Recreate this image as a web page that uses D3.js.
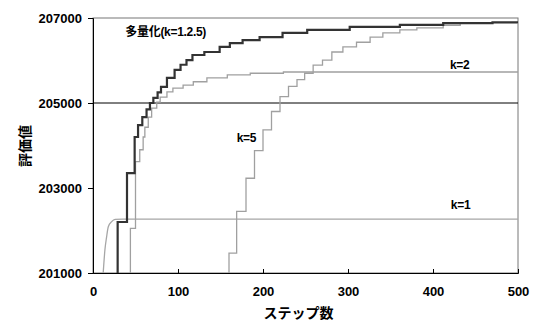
<!DOCTYPE html>
<html>
<head>
<meta charset="utf-8">
<script src="https://cdn.jsdelivr.net/npm/d3@7"></script>
<style>
  body { margin: 0; background: #fff; }
  svg text { font-family: "Liberation Sans", Arial, "Noto Sans CJK JP", sans-serif; }
</style>
</head>
<body>
<div id="chart"></div>
<script>
// Chart data
const multiSteps = [29, 29, 40, 49, 53, 58, 63, 67, 71, 76, 80, 87, 96, 103, 110, 117, 131, 149, 161, 176, 196, 223, 252, 302, 361, 412, 470, 500];
const multiValues = [201000, 202200, 203350, 204200, 204480, 204670, 204850, 205000, 205120, 205250, 205380, 205590, 205780, 205900, 206010, 206130, 206200, 206320, 206410, 206480, 206550, 206650, 206720, 206790, 206840, 206880, 206900, 206900];

const k1Steps = [12, 14, 16, 18, 22, 26, 35, 500];
const k1Values = [201000, 201540, 201850, 202090, 202210, 202260, 202270, 202270];

const k2Steps = [44, 44, 50, 55, 59, 61, 65, 69, 75, 79, 87, 94, 106, 118, 134, 158, 185, 224, 500];
const k2Values = [201000, 202050, 203620, 203900, 204200, 204430, 204670, 204880, 205020, 205140, 205260, 205350, 205420, 205500, 205590, 205660, 205700, 205730, 205730];

const k5Steps = [160, 160, 169, 180, 190, 200, 210, 220, 230, 240, 249, 259, 270, 281, 294, 310, 326, 341, 361, 381, 412, 432, 500];
const k5Values = [201000, 201470, 202450, 203230, 203880, 204370, 204800, 205150, 205390, 205550, 205700, 205890, 206010, 206200, 206320, 206430, 206550, 206650, 206720, 206770, 206830, 206880, 206880];

const xTicks = [0, 100, 200, 300, 400, 500];
const yTicks = [201000, 203000, 205000, 207000];
const refLine = 205000;

const width = 533, height = 320;
const margin = { top: 18, right: 15, bottom: 47, left: 93 };
const innerW = width - margin.left - margin.right;
const innerH = height - margin.top - margin.bottom;

const svg = d3.select('#chart')
    .append('svg')
    .attr('width', width)
    .attr('height', height);

const g = svg.append('g')
    .attr('transform', `translate(${margin.left},${margin.top})`);

const x = d3.scaleLinear().domain([0, 500]).range([0, innerW]);
const y = d3.scaleLinear().domain([201000, 207000]).range([innerH, 0]);

// clip so lines stay inside plot area
svg.append('defs').append('clipPath')
    .attr('id', 'plot-clip')
    .append('rect')
    .attr('width', innerW)
    .attr('height', innerH);

// plot frame
g.append('rect')
    .attr('width', innerW)
    .attr('height', innerH)
    .attr('fill', 'none')
    .attr('stroke', '#777')
    .attr('stroke-width', 1);

// reference line at 205000
g.append('line')
    .attr('x1', 0)
    .attr('x2', innerW)
    .attr('y1', y(refLine))
    .attr('y2', y(refLine))
    .attr('stroke', '#000')
    .attr('stroke-width', 1);

const toPoints = (steps, values) => steps.map((s, i) => ({ s: s, v: values[i] }));

const stepLine = d3.line()
    .x(d => x(d.s))
    .y(d => y(d.v))
    .curve(d3.curveStepAfter);

const smoothLine = d3.line()
    .x(d => x(d.s))
    .y(d => y(d.v))
    .curve(d3.curveMonotoneX);

const lines = g.append('g').attr('clip-path', 'url(#plot-clip)');

lines.append('path')
    .datum(toPoints(k1Steps, k1Values))
    .attr('d', smoothLine)
    .attr('fill', 'none')
    .attr('stroke', '#a6a6a6')
    .attr('stroke-width', 1.3);

lines.append('path')
    .datum(toPoints(k2Steps, k2Values))
    .attr('d', stepLine)
    .attr('fill', 'none')
    .attr('stroke', '#a0a0a0')
    .attr('stroke-width', 1.3);

lines.append('path')
    .datum(toPoints(k5Steps, k5Values))
    .attr('d', stepLine)
    .attr('fill', 'none')
    .attr('stroke', '#a0a0a0')
    .attr('stroke-width', 1.3);

lines.append('path')
    .datum(toPoints(multiSteps, multiValues))
    .attr('d', stepLine)
    .attr('fill', 'none')
    .attr('stroke', '#333')
    .attr('stroke-width', 2.2);

// axes
const xAxis = g.append('g')
    .attr('transform', `translate(0,${innerH})`)
    .call(d3.axisBottom(x).tickValues(xTicks).tickSize(-4).tickPadding(14).tickFormat(d3.format('d')));

const yAxis = g.append('g')
    .call(d3.axisLeft(y).tickValues(yTicks).tickSize(5).tickPadding(6).tickFormat(d3.format('d')));

[xAxis, yAxis].forEach(a => {
    a.select('.domain').attr('stroke', '#000');
    a.selectAll('line').attr('stroke', '#000');
    a.selectAll('text')
        .attr('font-size', '13px')
        .attr('font-weight', 'bold')
        .attr('fill', '#000');
});
xAxis.selectAll('.tick')
    .filter(d => d === 0 || d === 500)
    .select('line').remove();

// series labels
const labels = [
    { text: '多量化(k=1.2.5)', s: 38, v: 206670 },
    { text: 'k=2', s: 420, v: 205900 },
    { text: 'k=5', s: 169, v: 204170 },
    { text: 'k=1', s: 421, v: 202600 }
];
g.selectAll('.series-label')
    .data(labels)
    .enter()
    .append('text')
    .attr('class', 'series-label')
    .attr('x', d => x(d.s))
    .attr('y', d => y(d.v))
    .attr('dy', '0.35em')
    .attr('font-size', '12px')
    .attr('font-weight', 'bold')
    .attr('letter-spacing', '-0.3px')
    .text(d => d.text);

// axis titles
svg.append('text')
    .attr('x', margin.left + innerW / 2 - 7)
    .attr('y', 313)
    .attr('dy', '0.35em')
    .attr('text-anchor', 'middle')
    .attr('font-size', '14px')
    .attr('font-weight', 'bold')
    .text('ステップ数');

svg.append('text')
    .attr('transform', 'translate(25,146) rotate(-90)')
    .attr('dy', '0.35em')
    .attr('text-anchor', 'middle')
    .attr('font-size', '14px')
    .attr('font-weight', 'bold')
    .text('評価値');
</script>
</body>
</html>
